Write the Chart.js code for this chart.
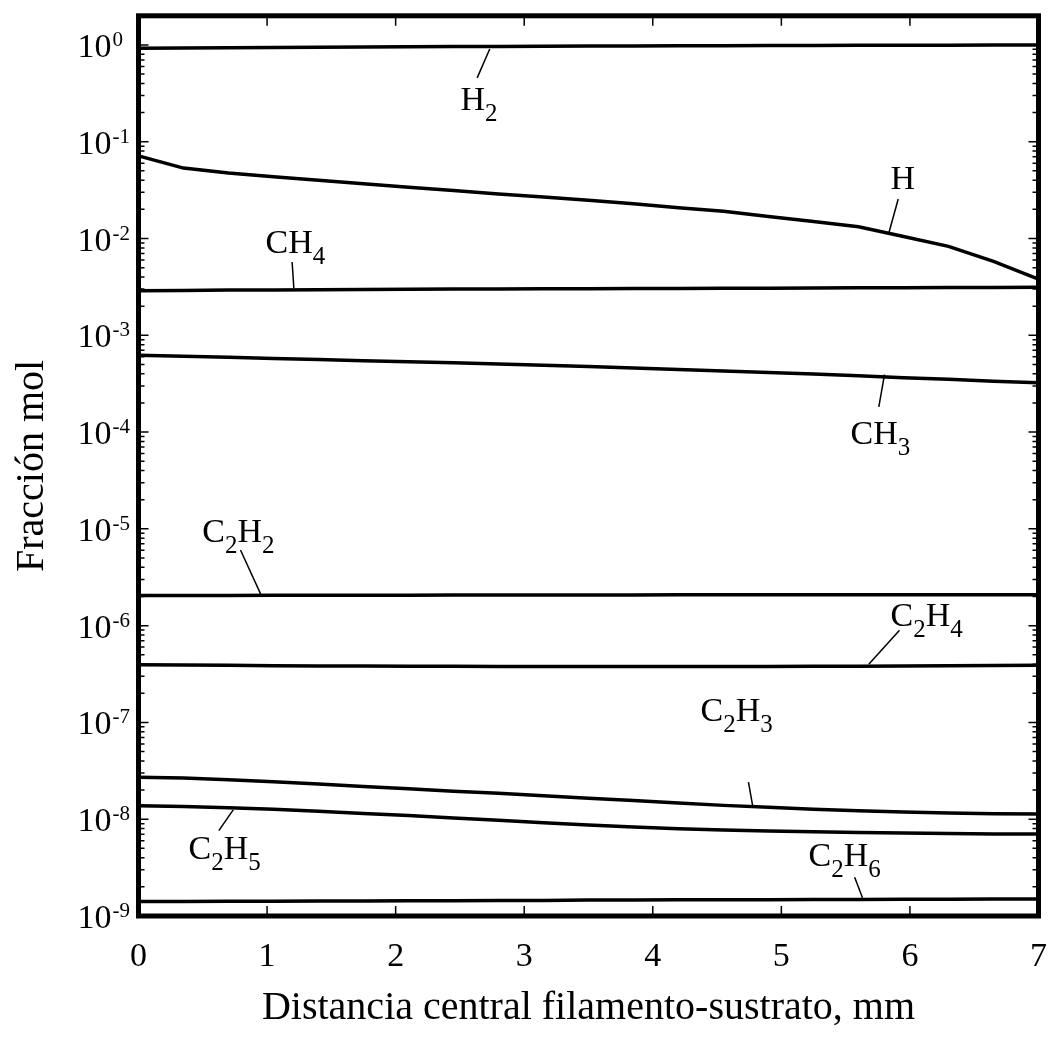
<!DOCTYPE html>
<html lang="es">
<head>
<meta charset="UTF-8">
<title>Fracción mol</title>
<style>
  html, body { margin: 0; padding: 0; background: #fff; }
  #wrap { width: 1049px; height: 1042px; }
</style>
</head>
<body>
<div id="wrap"><canvas id="grafica" width="1049" height="1042"></canvas></div>
<script src="https://cdn.jsdelivr.net/npm/chart.js"></script>
<script>
// distancia central filamento-sustrato (mm)
const distancia = [0, 0.35, 0.7, 1.05, 1.4, 1.75, 2.1, 2.45, 2.8, 3.15, 3.5,
                   3.85, 4.2, 4.55, 4.9, 5.25, 5.6, 5.95, 6.3, 6.65, 7];

const fraccionH2 = [0.924, 0.93, 0.936, 0.942, 0.947, 0.952, 0.957, 0.962, 0.966, 0.97, 0.973,
                    0.976, 0.979, 0.982, 0.985, 0.988, 0.99, 0.993, 0.995, 0.998, 1.0];
const fraccionH = [0.0715, 0.0534, 0.0476, 0.0435, 0.0399, 0.0367, 0.0339, 0.0313, 0.0289, 0.0268, 0.0249,
                   0.0228, 0.0208, 0.0191, 0.0169, 0.0150, 0.0132, 0.0105, 0.0083, 0.0058, 0.0038];
const fraccionCH4 = [0.00289, 0.00291, 0.00293, 0.00294, 0.00296, 0.00297, 0.00299, 0.003, 0.00301, 0.00302, 0.00303,
                     0.00304, 0.00305, 0.00306, 0.00307, 0.00308, 0.00309, 0.0031, 0.00311, 0.00312, 0.00313];
const fraccionCH3 = [6.22e-4, 6.07e-4, 5.92e-4, 5.76e-4, 5.61e-4, 5.47e-4, 5.33e-4, 5.19e-4, 5.06e-4, 4.91e-4, 4.75e-4,
                     4.60e-4, 4.44e-4, 4.28e-4, 4.13e-4, 3.98e-4, 3.81e-4, 3.65e-4, 3.51e-4, 3.36e-4, 3.23e-4];
const fraccionC2H2 = [2.05e-6, 2.05e-6, 2.05e-6, 2.06e-6, 2.06e-6, 2.06e-6, 2.06e-6, 2.07e-6, 2.07e-6, 2.07e-6, 2.07e-6,
                      2.07e-6, 2.08e-6, 2.08e-6, 2.08e-6, 2.08e-6, 2.08e-6, 2.09e-6, 2.09e-6, 2.09e-6, 2.09e-6];
const fraccionC2H4 = [3.95e-7, 3.92e-7, 3.89e-7, 3.86e-7, 3.84e-7, 3.82e-7, 3.81e-7, 3.8e-7, 3.79e-7, 3.79e-7, 3.78e-7,
                      3.78e-7, 3.78e-7, 3.79e-7, 3.79e-7, 3.8e-7, 3.81e-7, 3.83e-7, 3.85e-7, 3.87e-7, 3.89e-7];
const fraccionC2H3 = [2.71e-8, 2.66e-8, 2.55e-8, 2.44e-8, 2.31e-8, 2.18e-8, 2.06e-8, 1.95e-8, 1.85e-8, 1.75e-8, 1.65e-8,
                      1.56e-8, 1.47e-8, 1.39e-8, 1.33e-8, 1.27e-8, 1.22e-8, 1.19e-8, 1.16e-8, 1.14e-8, 1.13e-8];
const fraccionC2H5 = [1.378e-8, 1.352e-8, 1.314e-8, 1.265e-8, 1.209e-8, 1.148e-8, 1.092e-8, 1.031e-8, 9.74e-9, 9.18e-9, 8.71e-9,
                      8.31e-9, 7.96e-9, 7.74e-9, 7.55e-9, 7.41e-9, 7.29e-9, 7.19e-9, 7.10e-9, 7.05e-9, 7.04e-9];
const fraccionC2H6 = [1.41e-9, 1.41e-9, 1.42e-9, 1.42e-9, 1.43e-9, 1.43e-9, 1.44e-9, 1.44e-9, 1.45e-9, 1.45e-9, 1.46e-9,
                      1.46e-9, 1.47e-9, 1.47e-9, 1.47e-9, 1.48e-9, 1.48e-9, 1.49e-9, 1.49e-9, 1.5e-9, 1.5e-9];

const especies = ['H2', 'H', 'CH4', 'CH3', 'C2H2', 'C2H4', 'C2H3', 'C2H5', 'C2H6'];
const series = [fraccionH2, fraccionH, fraccionCH4, fraccionCH3, fraccionC2H2,
                fraccionC2H4, fraccionC2H3, fraccionC2H5, fraccionC2H6];

const ticksX = [0, 1, 2, 3, 4, 5, 6, 7];
const exponentesY = [0, -1, -2, -3, -4, -5, -6, -7, -8, -9];

const tituloX = 'Distancia central filamento-sustrato, mm';
const tituloY = 'Fracción mol';

// rotulos de las curvas: texto (con subindices), posicion y linea guia en unidades de datos
const etiquetas = [
  { partes: [['H', 0], ['2', 1]], x: 2.504, y: 0.2134, guia: [2.732, 0.909, 2.634, 0.4566] },
  { partes: [['H', 0]], x: 5.849, y: 0.03266, guia: [5.909, 0.02556, 5.836, 0.01139] },
  { partes: [['CH', 0], ['4', 1]], x: 0.988, y: 0.00714, guia: [1.195, 0.00572, 1.208, 0.00308] },
  { partes: [['CH', 0], ['3', 1]], x: 5.538, y: 7.45e-5, guia: [5.802, 3.93e-4, 5.758, 1.82e-4] },
  { partes: [['C', 0], ['2', 1], ['H', 0], ['2', 1]], x: 0.4955, y: 7.26e-6, guia: [0.7933, 6.04e-6, 0.9567, 2.03e-6] },
  { partes: [['C', 0], ['2', 1], ['H', 0], ['4', 1]], x: 5.849, y: 9.86e-7, guia: [5.919, 8.96e-7, 5.68, 4.0e-7] },
  { partes: [['C', 0], ['2', 1], ['H', 0], ['3', 1]], x: 4.371, y: 1.03e-7, guia: [4.744, 2.42e-8, 4.776, 1.40e-8] },
  { partes: [['C', 0], ['2', 1], ['H', 0], ['5', 1]], x: 0.389, y: 3.88e-9, guia: [0.7366, 1.25e-8, 0.6246, 7.61e-9] },
  { partes: [['C', 0], ['2', 1], ['H', 0], ['6', 1]], x: 5.211, y: 3.29e-9, guia: [5.57, 2.52e-9, 5.631, 1.54e-9] }
];

const serif = '"Liberation Serif", "Times New Roman", serif';

const ejesPlugin = {
  id: 'ejes',
  afterDatasetsDraw(chart) {
    const { ctx, chartArea: a, scales: { x, y } } = chart;
    ctx.save();
    ctx.strokeStyle = '#000';
    ctx.fillStyle = '#000';

    // marcas de los ejes (hacia dentro, en los cuatro lados)
    ctx.lineWidth = 1.5;
    ctx.beginPath();
    ticksX.forEach(v => {
      const px = x.getPixelForValue(v);
      ctx.moveTo(px, a.bottom); ctx.lineTo(px, a.bottom - 10);
      ctx.moveTo(px, a.top); ctx.lineTo(px, a.top + 10);
    });
    exponentesY.forEach(e => {
      for (let m = 1; m <= 9; m++) {
        const v = m * Math.pow(10, e);
        if (v > y.max) break;
        const py = y.getPixelForValue(v);
        const len = m === 1 ? 10 : 6;
        ctx.moveTo(a.left, py); ctx.lineTo(a.left + len, py);
        ctx.moveTo(a.right, py); ctx.lineTo(a.right - len, py);
      }
    });
    ctx.stroke();

    // marco
    ctx.lineWidth = 5;
    ctx.strokeRect(a.left, a.top, a.right - a.left, a.bottom - a.top);

    // rotulos eje y: 10 con exponente
    ctx.textAlign = 'left';
    ctx.textBaseline = 'alphabetic';
    exponentesY.forEach(e => {
      const py = y.getPixelForValue(Math.pow(10, e));
      ctx.font = '34px ' + serif;
      const x0 = a.left - 61;
      ctx.fillText('10', x0, py + 12);
      const w = ctx.measureText('10').width;
      ctx.font = '21px ' + serif;
      ctx.fillText(String(e), x0 + w + 1, py + 1);
    });

    // rotulos eje x
    ctx.font = '34px ' + serif;
    ctx.textAlign = 'center';
    ticksX.forEach(v => {
      ctx.fillText(String(v), x.getPixelForValue(v), a.bottom + 50);
    });

    // titulos
    ctx.font = '40px ' + serif;
    ctx.fillText(tituloX, (a.left + a.right) / 2, a.bottom + 103);
    ctx.save();
    ctx.translate(43, (a.top + a.bottom) / 2);
    ctx.rotate(-Math.PI / 2);
    ctx.fillText(tituloY, 0, 0);
    ctx.restore();

    // rotulos de las especies
    ctx.textAlign = 'left';
    etiquetas.forEach(et => {
      let px = x.getPixelForValue(et.x);
      const py = y.getPixelForValue(et.y);
      et.partes.forEach(([txt, sub]) => {
        ctx.font = (sub ? '25px ' : '34px ') + serif;
        ctx.fillText(txt, px, sub ? py + 11 : py);
        px += ctx.measureText(txt).width;
      });
      const g = et.guia;
      ctx.lineWidth = 1.5;
      ctx.beginPath();
      ctx.moveTo(x.getPixelForValue(g[0]), y.getPixelForValue(g[1]));
      ctx.lineTo(x.getPixelForValue(g[2]), y.getPixelForValue(g[3]));
      ctx.stroke();
    });

    ctx.restore();
  }
};

new Chart(document.getElementById('grafica').getContext('2d'), {
  type: 'line',
  data: {
    datasets: series.map((s, i) => ({
      label: especies[i],
      data: distancia.map((d, j) => ({ x: d, y: s[j] })),
      borderColor: '#000',
      borderWidth: 3.5,
      pointRadius: 0,
      tension: 0,
      fill: false
    }))
  },
  options: {
    responsive: false,
    animation: false,
    layout: { padding: { left: 138.5, right: 10.5, top: 15.8, bottom: 126 } },
    plugins: { legend: { display: false }, tooltip: { enabled: false } },
    scales: {
      x: { type: 'linear', min: 0, max: 7, display: false },
      y: { type: 'logarithmic', min: 1e-9, max: 2, display: false }
    }
  },
  plugins: [ejesPlugin]
});
</script>
</body>
</html>
